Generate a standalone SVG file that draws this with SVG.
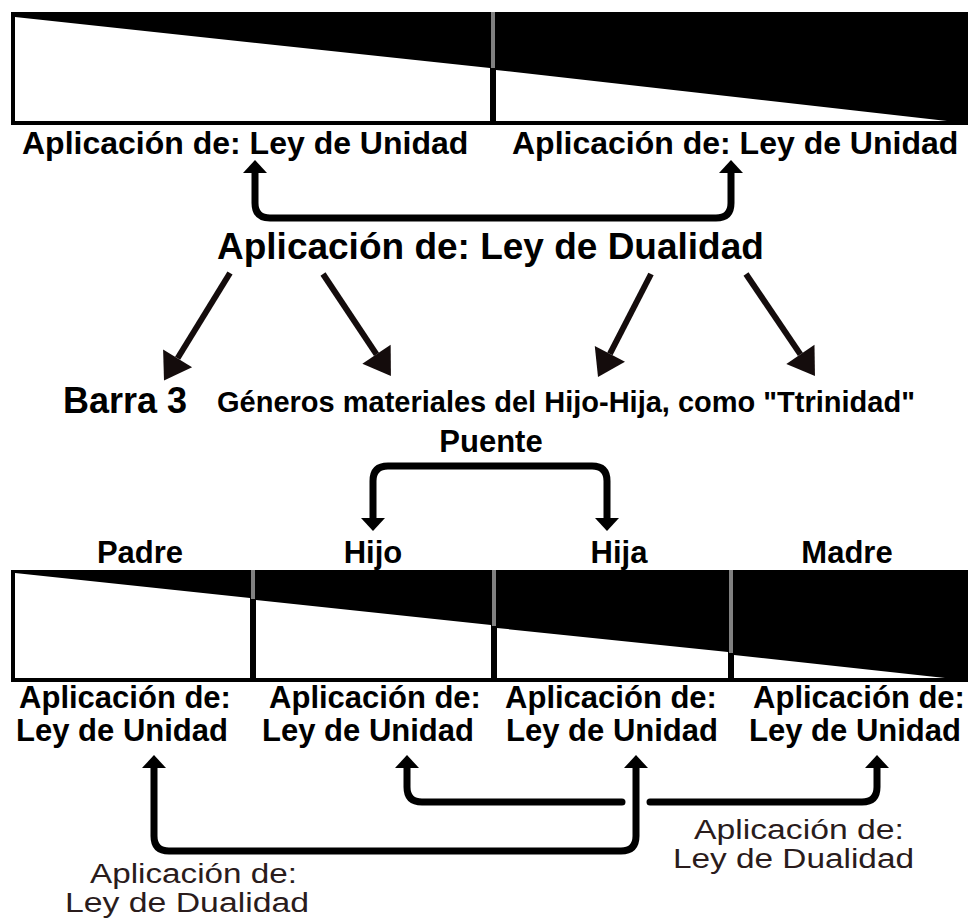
<svg xmlns="http://www.w3.org/2000/svg" width="968" height="919" viewBox="0 0 968 919">
<style>
text{font-family:"Liberation Sans",Arial,sans-serif;fill:#000}
.b{font-weight:bold}
.m{text-anchor:middle}
.reg{fill:#2a1c1c;font-size:27px}
.conn{fill:none;stroke:#000;stroke-width:7;stroke-linecap:round;stroke-linejoin:round}
.diag{fill:none;stroke:#140c0c;stroke-width:6}
.gray{stroke:#808080;stroke-width:4}
</style>
<defs>
<marker id="ah" viewBox="0 0 13 24" markerWidth="13" markerHeight="24" refX="0" refY="12" orient="auto-start-reverse" markerUnits="userSpaceOnUse" overflow="visible">
<path d="M0,0 L13,12 L0,24 Z" fill="#000"/>
</marker>
<marker id="big" viewBox="0 0 26 34" markerWidth="26" markerHeight="34" refX="0" refY="17" orient="auto" markerUnits="userSpaceOnUse" overflow="visible">
<path d="M0,0 L26,17 L0,34 Z" fill="#140c0c"/>
</marker>
</defs>

<g id="top-bar">
<rect x="11" y="12" width="957" height="113" fill="#000"/>
<polygon points="15,17 490,68 490,121 15,121" fill="#fff"/>
<polygon points="496,70 947,121 496,121" fill="#fff"/>
<line class="gray" x1="493" y1="12" x2="493" y2="68"/>
</g>

<g id="top-labels">
<text class="b" x="22" y="154" font-size="32">Aplicación de: Ley de Unidad</text>
<text class="b" x="512" y="154" font-size="32">Aplicación de: Ley de Unidad</text>
</g>

<g id="dualidad-title">
<text class="b" x="217" y="259" font-size="37">Aplicación de: Ley de Dualidad</text>
</g>

<g id="barra3">
<text class="b" x="63" y="413" font-size="36">Barra 3</text>
<text class="b" x="217" y="412" font-size="29">Géneros materiales del Hijo-Hija, como "Ttrinidad"</text>
</g>

<g id="puente">
<text class="b m" x="491" y="452" font-size="31">Puente</text>
</g>

<g id="names">
<text class="b m" x="140" y="563" font-size="31">Padre</text>
<text class="b m" x="373" y="563" font-size="31">Hijo</text>
<text class="b m" x="619" y="563" font-size="31">Hija</text>
<text class="b m" x="847" y="563" font-size="31">Madre</text>
</g>

<g id="bottom-bar">
<rect x="11" y="570" width="957" height="112" fill="#000"/>
<polygon points="15,573 250,598 250,678 15,678" fill="#fff"/>
<polygon points="256,600 491,625 491,678 256,678" fill="#fff"/>
<polygon points="497,628 728,652 728,678 497,678" fill="#fff"/>
<polygon points="734,655 945,678 734,678" fill="#fff"/>
<line class="gray" x1="253" y1="570" x2="253" y2="599"/>
<line class="gray" x1="494" y1="570" x2="494" y2="626"/>
<line class="gray" x1="731" y1="570" x2="731" y2="653"/>
</g>

<g id="bottom-labels">
<text class="b m" x="125" y="708" font-size="31">Aplicación de:</text>
<text class="b m" x="122" y="741" font-size="31">Ley de Unidad</text>
<text class="b m" x="375" y="708" font-size="31">Aplicación de:</text>
<text class="b m" x="368" y="741" font-size="31">Ley de Unidad</text>
<text class="b m" x="611" y="708" font-size="31">Aplicación de:</text>
<text class="b m" x="612" y="741" font-size="31">Ley de Unidad</text>
<text class="b m" x="859" y="708" font-size="31">Aplicación de:</text>
<text class="b m" x="855" y="741" font-size="31">Ley de Unidad</text>
</g>

<g id="dualidad-labels">
<text class="reg" x="694" y="839" textLength="210" lengthAdjust="spacingAndGlyphs">Aplicación de:</text>
<text class="reg" x="673" y="868" textLength="241" lengthAdjust="spacingAndGlyphs">Ley de Dualidad</text>
<text class="reg" x="90" y="883" textLength="207" lengthAdjust="spacingAndGlyphs">Aplicación de:</text>
<text class="reg" x="65" y="912" textLength="244" lengthAdjust="spacingAndGlyphs">Ley de Dualidad</text>
</g>

<g id="connectors">
<path class="conn" d="M255,173 V203 Q255,218 270,218 H716 Q731,218 731,203 V173" marker-start="url(#ah)" marker-end="url(#ah)"/>
<path class="diag" d="M230,273 L177.6,358.3" marker-end="url(#big)"/>
<path class="diag" d="M323,274 L376.5,354.3" marker-end="url(#big)"/>
<path class="diag" d="M651,274 L609.9,353.9" marker-end="url(#big)"/>
<path class="diag" d="M746,274 L800.4,354.4" marker-end="url(#big)"/>
<path class="conn" d="M373,518 V481 Q373,466 388,466 H592 Q607,466 607,481 V518" marker-start="url(#ah)" marker-end="url(#ah)"/>
<path class="conn" d="M154,768 V836 Q154,851 169,851 H621 Q636,851 636,836 V768" marker-start="url(#ah)" marker-end="url(#ah)"/>
<path class="conn" d="M622,802 H422 Q407,802 407,787 V768" marker-end="url(#ah)"/>
<path class="conn" d="M650,802 H862 Q877,802 877,787 V768" marker-end="url(#ah)"/>
</g>
</svg>
